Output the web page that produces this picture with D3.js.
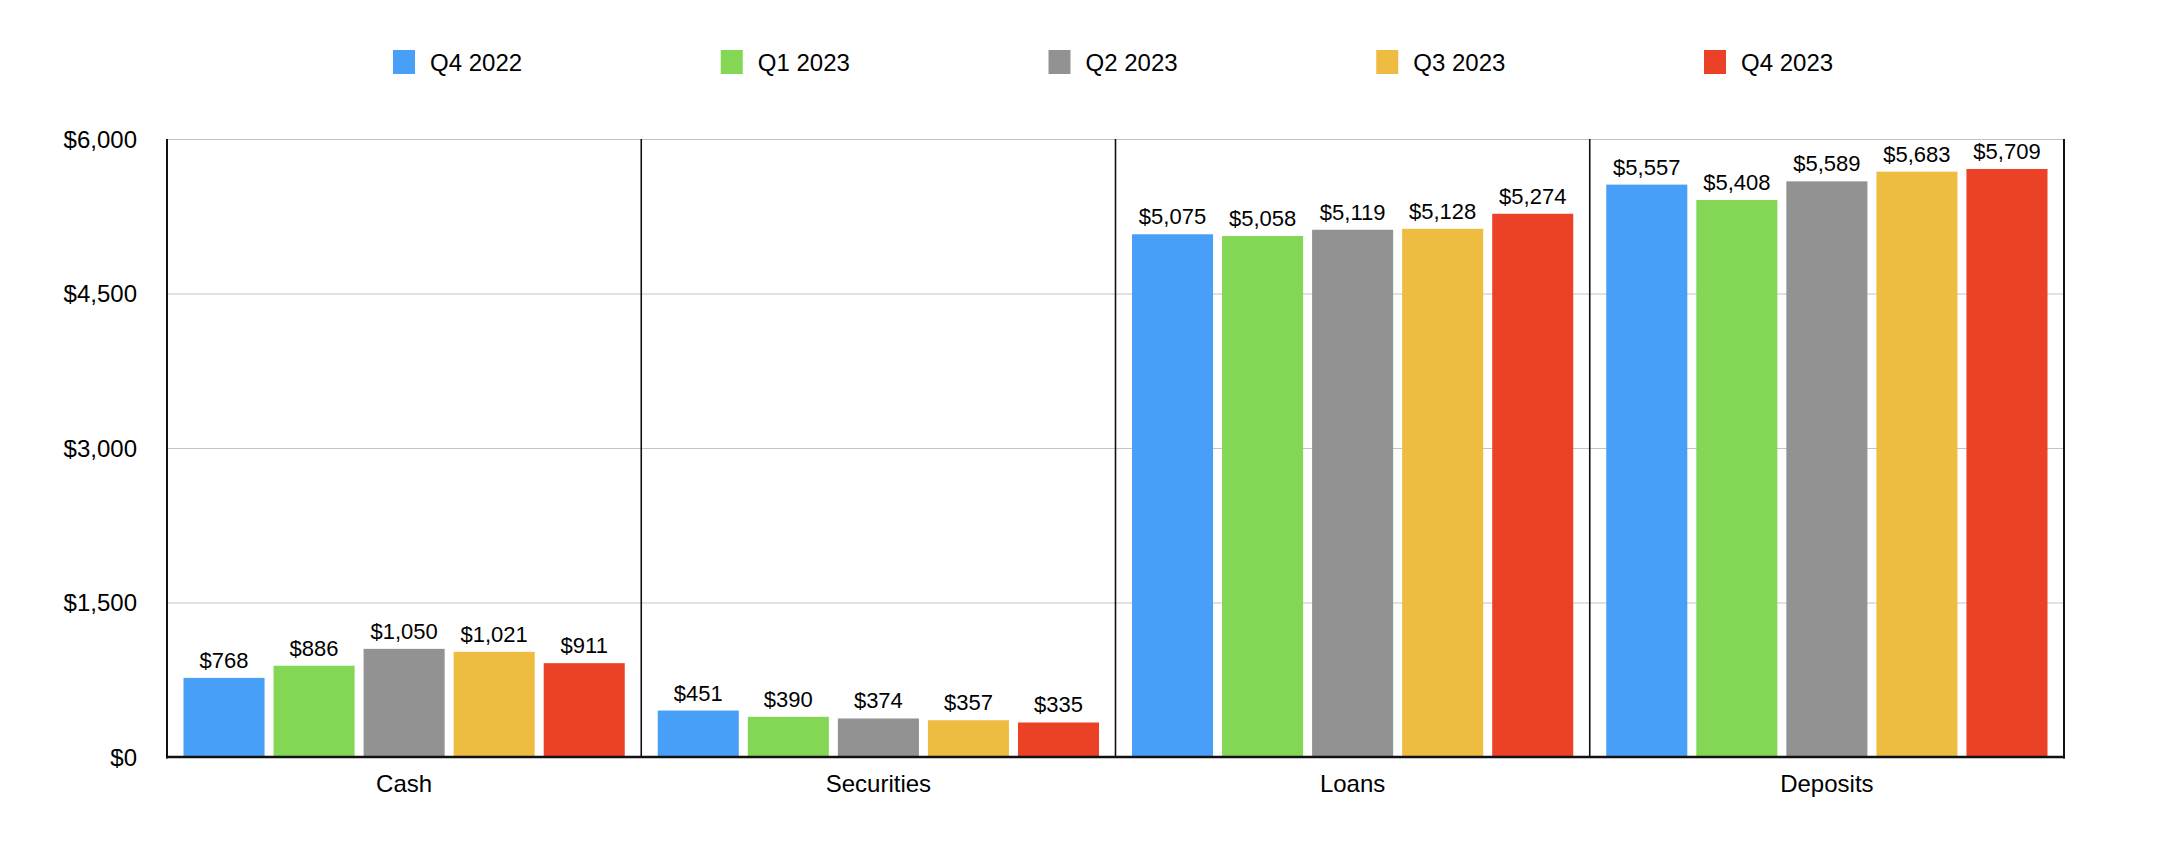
<!DOCTYPE html>
<html>
<head>
<meta charset="utf-8">
<script src="https://cdn.jsdelivr.net/npm/d3@7"></script>
<style>
  html, body { margin: 0; padding: 0; background: #fff; }
  svg { display: block; font-family: "Liberation Sans", Arial, Helvetica, sans-serif; }
</style>
</head>
<body>
<svg id="chart" width="2162" height="862"></svg>
<script>
const categories = ["Cash", "Securities", "Loans", "Deposits"];
const seriesNames = ["Q4 2022", "Q1 2023", "Q2 2023", "Q3 2023", "Q4 2023"];
const q4_2022 = [768, 451, 5075, 5557];
const q1_2023 = [886, 390, 5058, 5408];
const q2_2023 = [1050, 374, 5119, 5589];
const q3_2023 = [1021, 357, 5128, 5683];
const q4_2023 = [911, 335, 5274, 5709];
const seriesValues = [q4_2022, q1_2023, q2_2023, q3_2023, q4_2023];
const colors = ["#489FF8", "#83D754", "#929292", "#EEBC40", "#EB4126"];
const yTicks = [0, 1500, 3000, 4500, 6000];

const svg = d3.select("#chart");
const margin = { left: 167, right: 2064, top: 139, bottom: 757 };

const x0 = d3.scaleBand().domain(categories).range([margin.left, margin.right]).paddingInner(0).paddingOuter(0);
const x1 = d3.scaleBand().domain(seriesNames).range([16.5, x0.bandwidth() - 16.5]).paddingInner(0.1).paddingOuter(0);
const y = d3.scaleLinear().domain([0, 6000]).range([margin.bottom, margin.top]);

const fmt = v => "$" + d3.format(",")(v);

// gridlines
svg.append("g").selectAll("line").data(yTicks.filter(d => d > 0)).join("line")
  .attr("x1", margin.left).attr("x2", margin.right)
  .attr("y1", d => y(d) + 0.5).attr("y2", d => y(d) + 0.5)
  .attr("stroke", "#c4c4c4").attr("stroke-width", 1.2);

// y tick labels
svg.append("g").selectAll("text").data(yTicks).join("text")
  .attr("x", 137).attr("y", d => y(d)).attr("dy", "0.36em")
  .attr("text-anchor", "end").attr("font-size", 24).attr("fill", "#000")
  .text(fmt);

// bars
const rows = [];
seriesNames.forEach((s, i) => categories.forEach((c, j) => rows.push({ s, c, v: seriesValues[i][j], i })));

svg.append("g").selectAll("rect").data(rows).join("rect")
  .attr("x", d => x0(d.c) + x1(d.s))
  .attr("width", x1.bandwidth())
  .attr("y", d => y(d.v))
  .attr("height", d => y(0) - y(d.v))
  .attr("fill", d => colors[d.i]);

// value labels
svg.append("g").selectAll("text").data(rows).join("text")
  .attr("x", d => x0(d.c) + x1(d.s) + x1.bandwidth() / 2)
  .attr("y", d => y(d.v) - 10)
  .attr("text-anchor", "middle").attr("font-size", 22).attr("fill", "#000")
  .text(d => fmt(d.v));

// separators
svg.append("g").selectAll("line").data(categories.slice(1)).join("line")
  .attr("x1", d => x0(d)).attr("x2", d => x0(d))
  .attr("y1", margin.top).attr("y2", margin.bottom)
  .attr("stroke", "#111").attr("stroke-width", 1.6);

// axes frame
svg.append("line").attr("x1", margin.left).attr("x2", margin.left)
  .attr("y1", margin.top).attr("y2", margin.bottom + 1.5)
  .attr("stroke", "#111").attr("stroke-width", 2);
svg.append("line").attr("x1", margin.right).attr("x2", margin.right)
  .attr("y1", margin.top).attr("y2", margin.bottom + 1.5)
  .attr("stroke", "#111").attr("stroke-width", 2);
svg.append("line").attr("x1", margin.left - 1).attr("x2", margin.right + 1)
  .attr("y1", margin.bottom).attr("y2", margin.bottom)
  .attr("stroke", "#111").attr("stroke-width", 2.6);

// category labels
svg.append("g").selectAll("text").data(categories).join("text")
  .attr("x", d => x0(d) + x0.bandwidth() / 2).attr("y", 792)
  .attr("text-anchor", "middle").attr("font-size", 24).attr("fill", "#000")
  .text(d => d);

// legend
const legendX = d3.scalePoint().domain(seriesNames).range([393, 1704]);
const lg = svg.append("g").selectAll("g").data(seriesNames).join("g")
  .attr("transform", d => `translate(${legendX(d)},50)`);
lg.append("rect").attr("width", 22).attr("height", 24).attr("fill", (d, i) => colors[i]);
lg.append("text").attr("x", 37).attr("y", 21).attr("font-size", 24).attr("fill", "#000").text(d => d);
</script>
</body>
</html>
